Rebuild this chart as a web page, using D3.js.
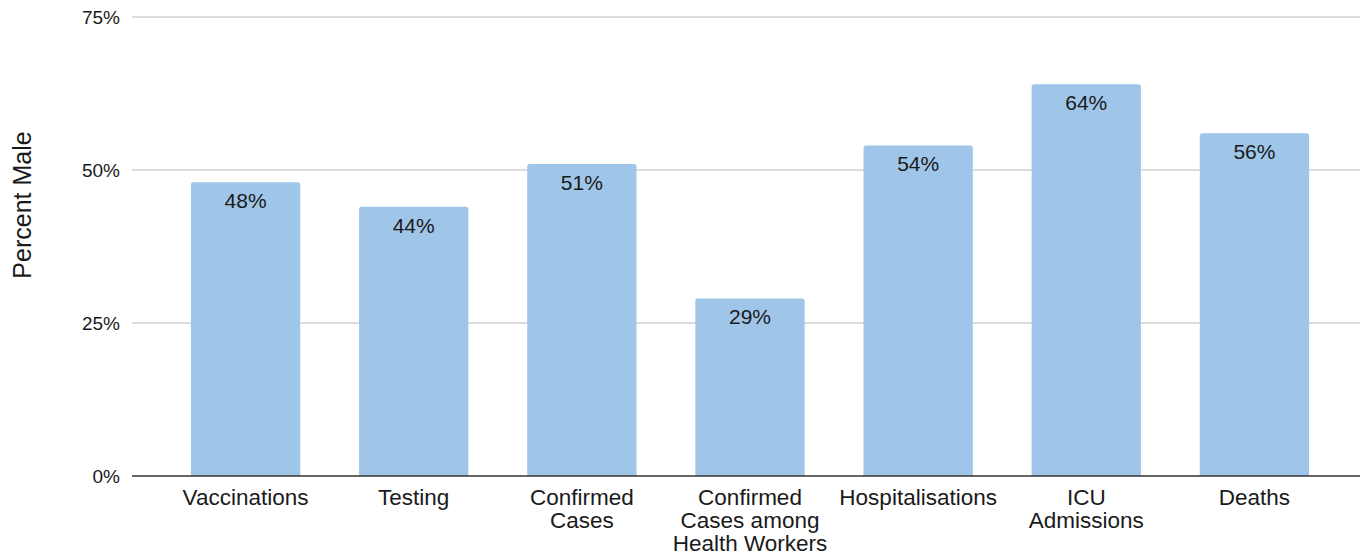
<!doctype html>
<html lang="en">
<head>
<meta charset="utf-8">
<title>Percent Male</title>
<script src="https://d3js.org/d3.v7.min.js"></script>
<style>
  body { margin: 0; background: #fff; }
  svg text { font-family: "Liberation Sans", Arial, sans-serif; fill: #1a1a1a; }
</style>
</head>
<body>
<svg width="1362" height="556"></svg>
<script>
const categories = ["Vaccinations", "Testing", "Confirmed Cases", "Confirmed Cases among Health Workers",
                    "Hospitalisations", "ICU Admissions", "Deaths"];
const labelLines = [["Vaccinations"], ["Testing"], ["Confirmed", "Cases"], ["Confirmed", "Cases among", "Health Workers"],
                    ["Hospitalisations"], ["ICU", "Admissions"], ["Deaths"]];
const percentMale = [48, 44, 51, 29, 54, 64, 56];
const yTicks = [0, 25, 50, 75];

const svg = d3.select("svg");
const plotLeft = 132, plotRight = 1360, plotTop = 17, plotBottom = 476;

const x = d3.scaleBand()
    .domain(categories)
    .range([161.5, 1338.5])
    .paddingInner(0.35)
    .paddingOuter(0.175);
const y = d3.scaleLinear().domain([0, 75]).range([plotBottom, plotTop]);

// gridlines + tick labels
svg.append("g").selectAll("line")
    .data(yTicks.filter(d => d > 0))
    .join("line")
    .attr("x1", plotLeft).attr("x2", plotRight)
    .attr("y1", d => y(d)).attr("y2", d => y(d))
    .attr("stroke", "#d0d0d0").attr("stroke-width", 1.3);

svg.append("g").selectAll("text")
    .data(yTicks)
    .join("text")
    .attr("x", 120)
    .attr("y", d => y(d))
    .attr("dy", "0.35em")
    .attr("text-anchor", "end")
    .style("font-size", "19px")
    .text(d => d + "%");

// bars with small rounded top corners
const r = 2.5;
function barPath(x0, w, yt, yb) {
  return `M${x0},${yb} V${yt + r} Q${x0},${yt} ${x0 + r},${yt} H${x0 + w - r} Q${x0 + w},${yt} ${x0 + w},${yt + r} V${yb} Z`;
}
svg.append("g").selectAll("path")
    .data(percentMale)
    .join("path")
    .attr("fill", "#9fc5e8")
    .attr("d", (d, i) => barPath(x(categories[i]), x.bandwidth(), y(d), y(0)));

svg.append("g").selectAll("text")
    .data(percentMale)
    .join("text")
    .attr("x", (d, i) => x(categories[i]) + x.bandwidth() / 2)
    .attr("y", d => y(d) + 18.5)
    .attr("dy", "0.35em")
    .attr("text-anchor", "middle")
    .style("font-size", "21px")
    .text(d => d + "%");

// baseline
svg.append("line")
    .attr("x1", plotLeft).attr("x2", plotRight)
    .attr("y1", y(0)).attr("y2", y(0))
    .attr("stroke", "#333").attr("stroke-width", 1.3);

// category labels
const cat = svg.append("g").selectAll("text")
    .data(categories)
    .join("text")
    .attr("text-anchor", "middle")
    .style("font-size", "22.5px")
    .attr("transform", d => `translate(${x(d) + x.bandwidth() / 2},${plotBottom + 29})`);
cat.selectAll("tspan")
    .data((d, i) => labelLines[i])
    .join("tspan")
    .attr("x", 0)
    .attr("y", (d, j) => j * 23)
    .text(d => d);

// y axis title
svg.append("text")
    .attr("transform", "translate(31,205) rotate(-90)")
    .attr("text-anchor", "middle")
    .style("font-size", "25px")
    .text("Percent Male");
</script>
</body>
</html>
